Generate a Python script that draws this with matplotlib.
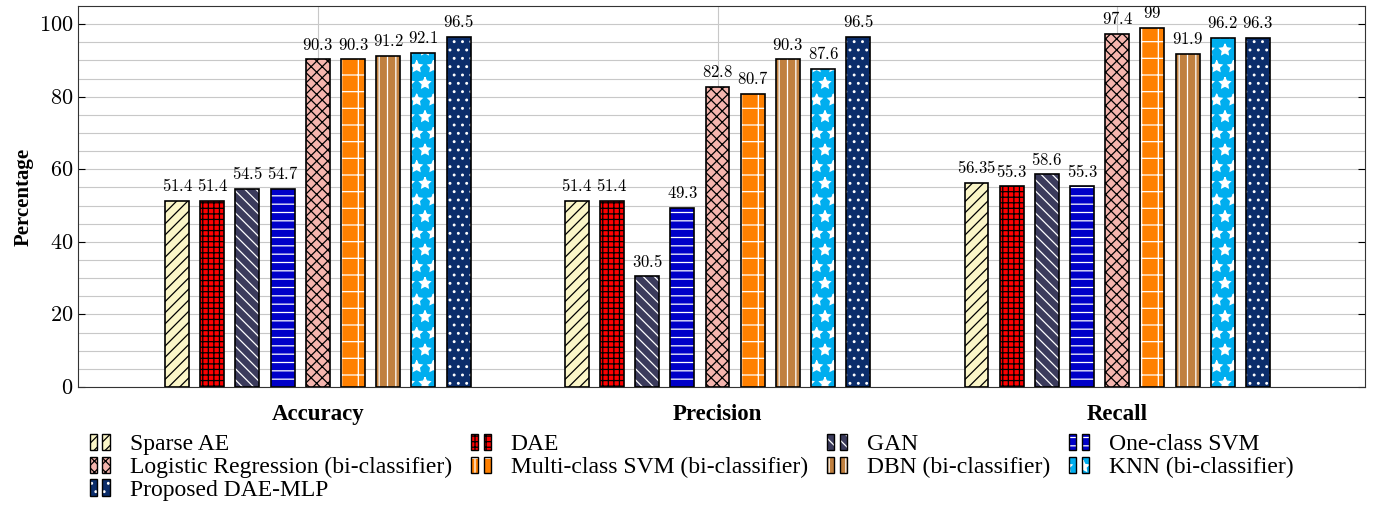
import numpy as np
import matplotlib
matplotlib.use("Agg")
import matplotlib.pyplot as plt
from matplotlib.patches import Patch, Rectangle
from matplotlib.legend_handler import HandlerBase

plt.rcParams['font.family'] = ['Liberation Serif', 'DejaVu Serif']
plt.rcParams['mathtext.fontset'] = 'cm'
plt.rcParams['hatch.linewidth'] = 0.9

# data
metrics = ["Accuracy", "Precision", "Recall"]
methods = ["Sparse AE", "DAE", "GAN", "One-class SVM",
           "Logistic Regression (bi-classifier)", "Multi-class SVM (bi-classifier)",
           "DBN (bi-classifier)", "KNN (bi-classifier)", "Proposed DAE-MLP"]
sparse_ae = [51.4, 51.4, 56.35]
dae = [51.4, 51.4, 55.3]
gan = [54.5, 30.5, 58.6]
ocsvm = [54.7, 49.3, 55.3]
logreg = [90.3, 82.8, 97.4]
mcsvm = [90.3, 80.7, 99]
dbn = [91.2, 90.3, 91.9]
knn = [92.1, 87.6, 96.2]
proposed = [96.5, 96.5, 96.3]
values = [sparse_ae, dae, gan, ocsvm, logreg, mcsvm, dbn, knn, proposed]

# style: face colour, hatch, hatch colour
styles = [
    ("#FBF6C8", "///", "black"),
    ("#FF0000", "+++", "black"),
    ("#3B3B5C", "\\\\\\", "white"),
    ("#0000C8", "--", "white"),
    ("#F5B5AE", "xxx", "black"),
    ("#FF8000", "+", "white"),
    ("#C0803F", "||", "white"),
    ("#00AEEF", "*", "white"),
    ("#0B2D6B", "..", "white"),
]


class TwoBoxHandler(HandlerBase):
    # pgfplots style legend image: two small hatched boxes
    def create_artists(self, legend, orig, xdescent, ydescent, width, height, fontsize, trans):
        fc, h, hc = orig.style
        bw = width * 0.36
        arts = []
        for x0 in (-xdescent, -xdescent + width - bw):
            r1 = Rectangle((x0, -ydescent), bw, height, facecolor=fc, edgecolor=hc,
                           hatch=h, linewidth=0, transform=trans)
            r2 = Rectangle((x0, -ydescent), bw, height, fill=False, edgecolor="black",
                           linewidth=1.0, transform=trans)
            arts += [r1, r2]
        return arts


fig = plt.figure(figsize=(13.76, 5.23), dpi=100)
ax = fig.add_axes([0.0567, 0.26, 0.9353, 0.7285])

x = np.arange(len(metrics))
step = 0.088
width = 0.06
n = len(methods)

handles = []
for i, (vals, (fc, h, hc)) in enumerate(zip(values, styles)):
    pos = x + (i - (n - 1) / 2) * step
    ax.bar(pos, vals, width, color=fc, edgecolor=hc, hatch=h, linewidth=0, zorder=3)
    ax.bar(pos, vals, width, fill=False, edgecolor="black", linewidth=1.2, zorder=4)
    for p, v in zip(pos, vals):
        ax.text(p, v + 1.6, "$%g$" % v, ha="center", va="bottom", fontsize=12, zorder=5)
    hp = Patch(facecolor=fc)
    hp.style = (fc, h, hc)
    handles.append(hp)

ax.set_xlim(-0.6, 2.62)
ax.set_ylim(0, 105)
ax.set_xticks(x)
ax.set_xticklabels(metrics, fontweight="bold", fontsize=16.5)
ax.tick_params(axis="x", length=0, pad=12)
ax.set_yticks([0, 20, 40, 60, 80, 100])
ax.set_yticklabels(["$%d$" % t for t in [0, 20, 40, 60, 80, 100]], fontsize=16)
ax.set_yticks(np.arange(0, 105, 5), minor=True)
ax.tick_params(axis="y", which="both", direction="in", right=True, length=5)
ax.tick_params(axis="y", which="minor", length=0)
ax.grid(True, which="both", axis="y", color="#C8C8C8", linewidth=0.8, zorder=0)
ax.grid(True, which="major", axis="x", color="#C8C8C8", linewidth=0.8, zorder=0)
ax.set_axisbelow(True)
ax.set_ylabel("Percentage", fontweight="bold", fontsize=15)
for s in ax.spines.values():
    s.set_color("#333333")

# legend order so that entries run row by row over 4 columns
order = [0, 4, 8, 1, 5, 2, 6, 3, 7]
fig.legend([handles[k] for k in order], [methods[k] for k in order],
           loc="upper left", bbox_to_anchor=(0.0565, 0.193), borderpad=0,
           ncol=4, frameon=False, fontsize=17, handlelength=0.85, handleheight=0.7,
           columnspacing=0.8, labelspacing=0.05, handletextpad=0.85,
           handler_map={Patch: TwoBoxHandler()})

fig.savefig("out.png", dpi=100)
